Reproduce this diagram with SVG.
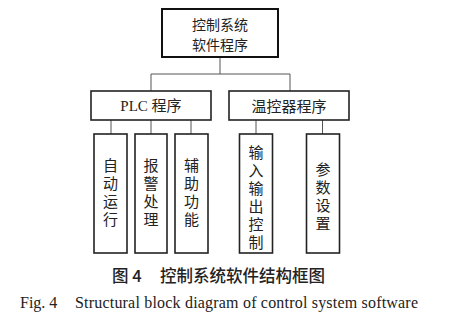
<svg xmlns="http://www.w3.org/2000/svg" width="456" height="320" viewBox="0 0 456 320">
<style>
.box{fill:#fff;stroke:#222;stroke-width:1.6}
.top{fill:#fff;stroke:#111;stroke-width:2}
.ln{stroke:#555;stroke-width:1;fill:none}
.t{font-family:"Noto Sans CJK SC","Noto Sans",sans-serif;font-size:15px;fill:#222;text-anchor:middle;dominant-baseline:central}
.r{font-family:"Noto Sans CJK SC","Noto Sans",sans-serif;font-size:14px;fill:#222;text-anchor:middle;dominant-baseline:central}
.v{font-family:"Noto Sans CJK SC","Noto Sans",sans-serif;font-size:15px;fill:#222;text-anchor:middle;writing-mode:vertical-rl;letter-spacing:3px}
.p{font-family:"Liberation Serif","Noto Sans CJK SC",serif;font-size:15px;fill:#222;text-anchor:middle;dominant-baseline:central}
.cap{font-family:"Noto Sans CJK SC",sans-serif;font-size:16.5px;font-weight:500;fill:#222;dominant-baseline:central}
.en{font-family:"Liberation Serif",serif;font-size:16px;fill:#222;dominant-baseline:central}
</style>
<rect width="456" height="320" fill="#fff"/>
<g id="connectors">
<path class="ln" d="M220 57V74M151 74H290M151 74V91M290 74V91"/>
<path class="ln" d="M111 120V134M151 120V134M191 120V134"/>
<path class="ln" d="M256 120V134M322.5 120V134"/>
</g>
<g id="root">
<rect class="top" x="162" y="9" width="116" height="48"/>
<text class="r" x="220" y="23.5">控制系统</text>
<text class="r" x="220" y="44">软件程序</text>
</g>
<g id="plc">
<rect class="box" x="91" y="91" width="120" height="29"/>
<text class="p" x="151" y="105.5">PLC 程序</text>
</g>
<g id="temp">
<rect class="box" x="229" y="91" width="120" height="29"/>
<text class="t" x="289" y="105.5">温控器程序</text>
</g>
<g id="auto">
<rect class="box" x="94" y="134" width="33" height="119"/>
<text class="v" x="110.5" y="193.5">自动运行</text>
</g>
<g id="alarm">
<rect class="box" x="135" y="134" width="32" height="119"/>
<text class="v" x="151" y="193.5">报警处理</text>
</g>
<g id="aux">
<rect class="box" x="175" y="134" width="33" height="119"/>
<text class="v" x="191.5" y="193.5">辅助功能</text>
</g>
<g id="io">
<rect class="box" x="239.5" y="134" width="33" height="119"/>
<text class="v" x="256" y="198.5">输入输出控制</text>
</g>
<g id="param">
<rect class="box" x="306.5" y="134" width="33" height="119"/>
<text class="v" x="323" y="197.5">参数设置</text>
</g>
<text class="cap" x="112" y="275">图 4</text>
<text class="cap" x="160" y="275">控制系统软件结构框图</text>
<text class="en" x="20" y="302">Fig. 4</text>
<text class="en" x="75" y="302" textLength="343" lengthAdjust="spacing">Structural block diagram of control system software</text>
</svg>
